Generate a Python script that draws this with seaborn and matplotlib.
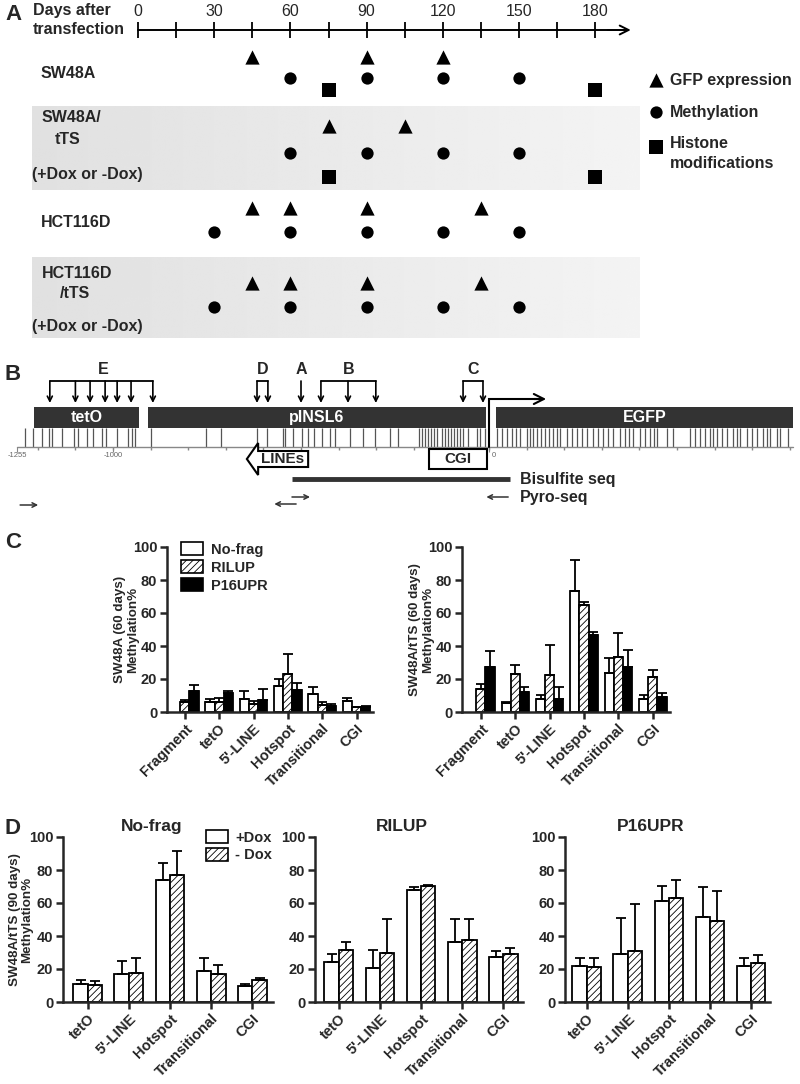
import numpy as np
import pandas as pd
import matplotlib
matplotlib.use("Agg")
import matplotlib.pyplot as plt
import seaborn as sns
from matplotlib.patches import Rectangle, Polygon, Patch

# ---------------- data ----------------
# Panel A : days after transfection
timeline_ticks = [0, 15, 30, 45, 60, 75, 90, 105, 120, 135, 150, 165, 180]
timeline_labels = [0, 30, 60, 90, 120, 150, 180]
sw48a_gfp = [45, 90, 120]
sw48a_meth = [60, 90, 120, 150]
sw48a_hist = [75, 180]
tts_gfp = [75, 105]
tts_meth = [60, 90, 120, 150]
tts_hist = [75, 180]
hct_gfp = [45, 60, 90, 135]
hct_meth = [30, 60, 90, 120, 150]
hcttts_gfp = [45, 60, 90, 135]
hcttts_meth = [30, 60, 90, 120, 150]

# Panel B : construct map (bp relative to TSS)
construct_names = ["tetO", "pINSL6", "EGFP"]
construct_start = [-1210, -907, 19]
construct_end = [-931, -8, 808]
cpg_sites = [-1234, -1213, -1189, -1170, -1162, -1136, -1104, -1093, -1069, -1053,
             -1029, -1019, -989, -960, -949, -941, -899, -753, -713, -617, -590,
             -548, -543, -521, -497, -481, -465, -444, -423, -410, -370, -335, -303,
             -263, -242, -186, -178, -170, -162, -154, -146, -138, -125, -117, -109,
             -101, -93, -85, -77, -69, -56, -32, -24, -11, 21, 35, 48, 61, 72, 82,
             101, 109, 117, 128, 138, 149, 160, 170, 181, 189, 207, 221, 234, 247,
             261, 277, 290, 303, 316, 330, 348, 362, 372, 383, 402, 415, 428, 439,
             447, 473, 489, 535, 548, 561, 574, 588, 596, 606, 620, 633, 649, 660,
             668, 686, 699, 713, 729, 739, 747, 766, 774, 795]
site_groups = ["E", "D", "A", "B", "C"]
site_E = [-1168, -1100, -1061, -1021, -989, -952, -894]
site_D = [-617, -588]
site_A = [-500]
site_B = [-447, -375, -301]
site_C = [-69, -16]
lines_start, lines_end = -644, -481
cgi_start, cgi_end = -160, -5
bisulfite_start, bisulfite_end = -524, 56
pyro_fwd = [-1247, -524]
pyro_rev = [51, -513]
axis_ticks_bp = [-1255, -1000, 0]

# Panel C : SW48A and SW48A/tTS, 60 days
c_regions = ["Fragment", "tetO", "5'-LINE", "Hotspot", "Transitional", "CGI"]
c_groups = ["No-frag", "RILUP", "P16UPR"]
c1_nofrag = [np.nan, 5.9, 8.1, 15.6, 11.0, 6.9]
c1_nofrag_err = [np.nan, 2.0, 4.5, 4.7, 4.0, 1.6]
c1_rilup = [6.1, 6.1, 5.1, 23.1, 4.5, 3.0]
c1_rilup_err = [1.0, 2.4, 1.8, 12.2, 1.6, 0.2]
c1_p16 = [12.6, 11.4, 7.3, 13.4, 3.9, 3.0]
c1_p16_err = [4.0, 1.2, 6.9, 4.2, 1.2, 0.6]
c2_nofrag = [np.nan, 5.3, 8.1, 73.5, 23.5, 7.7]
c2_nofrag_err = [np.nan, 1.0, 2.2, 18.5, 9.5, 2.6]
c2_rilup = [14.2, 22.9, 22.3, 65.0, 33.4, 21.5]
c2_rilup_err = [2.6, 5.6, 18.2, 1.4, 14.6, 3.8]
c2_p16 = [27.3, 12.3, 8.1, 46.6, 27.3, 9.3]
c2_p16_err = [9.7, 3.1, 7.1, 1.6, 10.1, 2.0]

# Panel D : SW48A/tTS, 90 days, +Dox / -Dox
d_regions = ["tetO", "5'-LINE", "Hotspot", "Transitional", "CGI"]
d_groups = ["+Dox", "- Dox"]
d_titles = ["No-frag", "RILUP", "P16UPR"]
nofrag_plus = [10.8, 17.2, 74.0, 18.9, 9.5]
nofrag_plus_err = [2.4, 7.5, 10.2, 7.5, 1.3]
nofrag_minus = [10.1, 17.8, 77.1, 17.2, 13.2]
nofrag_minus_err = [2.5, 8.6, 14.4, 5.1, 1.6]
rilup_plus = [24.3, 20.7, 68.0, 36.5, 27.0]
rilup_plus_err = [4.5, 10.7, 2.0, 13.8, 4.0]
rilup_minus = [31.4, 30.0, 70.6, 37.5, 28.8]
rilup_minus_err = [5.1, 20.3, 0.4, 12.8, 3.7]
p16_plus = [21.6, 28.8, 61.4, 51.6, 22.0]
p16_plus_err = [4.9, 22.4, 9.0, 18.4, 4.5]
p16_minus = [21.0, 31.2, 62.9, 49.2, 23.7]
p16_minus_err = [5.7, 28.2, 11.2, 18.1, 4.5]

# ---------------- style ----------------
sns.set_style("ticks")
plt.rcParams["font.family"] = ["Liberation Sans", "DejaVu Sans"]
plt.rcParams["hatch.linewidth"] = 0.6
plt.rcParams["hatch.color"] = "#222222"
NARROW = ["Liberation Sans Narrow", "Liberation Sans", "DejaVu Sans"]

W, H = 800, 1084
fig = plt.figure(figsize=(W / 100, H / 100), dpi=100)


def axes_px(x0, y0, x1, y1):
    return fig.add_axes([x0 / W, 1 - y1 / H, (x1 - x0) / W, (y1 - y0) / H])


def ftext(x, y, s, **kw):
    kw.setdefault("va", "center")
    fig.text(x / W, 1 - y / H, s, **kw)


# ---------------- Panel A ----------------
PX0, PXD = 138.0, 2.54          # day 0 position and px per day
axA = axes_px(0, 0, W, 345)
axA.axis("off")


def d(px):
    return (px - PX0) / PXD


grad = np.linspace(0.88, 0.955, 256)[None, :]
for (y0, y1) in [(107, 190), (258, 338)]:
    axA.imshow(grad, extent=(d(32), d(640), y1, y0), cmap="gray", vmin=0, vmax=1,
               aspect="auto", zorder=0, interpolation="bilinear")
axA.set_xlim((0 - PX0) / PXD, (W - PX0) / PXD)
axA.set_ylim(345, 0)

axA.plot([0, 192], [30, 30], color="black", lw=1.4, zorder=2)
axA.annotate("", xy=(194, 30), xytext=(185, 30),
             arrowprops=dict(arrowstyle="->", lw=1.4, color="black",
                             mutation_scale=16, shrinkA=0, shrinkB=0))
axA.vlines(timeline_ticks, 22, 38, color="black", lw=1.3)
for t in timeline_labels:
    axA.text(t, 11, str(t), ha="center", va="center", fontsize=11.5, family=NARROW)

S_TRI, S_CIR, S_SQ = 105, 78, 95
rows = [
    (sw48a_gfp, "^", 57, S_TRI), (sw48a_meth, "o", 78, S_CIR), (sw48a_hist, "s", 90, S_SQ),
    (tts_gfp, "^", 126, S_TRI), (tts_meth, "o", 153, S_CIR), (tts_hist, "s", 177, S_SQ),
    (hct_gfp, "^", 208, S_TRI), (hct_meth, "o", 232, S_CIR),
    (hcttts_gfp, "^", 283, S_TRI), (hcttts_meth, "o", 307, S_CIR),
]
for days, mk, y, s in rows:
    axA.scatter(days, [y] * len(days), marker=mk, s=s, color="black", linewidths=0, zorder=3)

# legend of panel A
axA.scatter([d(656)], [80], marker="^", s=S_TRI, color="black", linewidths=0)
axA.scatter([d(656)], [112], marker="o", s=S_CIR, color="black", linewidths=0)
axA.scatter([d(656)], [147], marker="s", s=S_SQ, color="black", linewidths=0)

bold_n = dict(fontsize=11.5, fontweight="bold", family=NARROW)
ftext(670, 80, "GFP expression", **bold_n)
ftext(670, 112, "Methylation", **bold_n)
ftext(670, 143, "Histone", **bold_n)
ftext(670, 164, "modifications", **bold_n)

ftext(33, 11, "Days after", **bold_n)
ftext(33, 30, "transfection", **bold_n)
ftext(41, 73, "SW48A", **bold_n)
ftext(42, 118, "SW48A/", **bold_n)
ftext(55, 140, "tTS", **bold_n)
ftext(32, 175, "(+Dox or -Dox)", **bold_n)
ftext(41, 223, "HCT116D", **bold_n)
ftext(42, 273, "HCT116D", **bold_n)
ftext(60, 293, "/tTS", **bold_n)
ftext(32, 327, "(+Dox or -Dox)", **bold_n)

ftext(5, 14, "A", fontsize=16, fontweight="bold", family=NARROW)
ftext(5, 375, "B", fontsize=16, fontweight="bold", family=NARROW)
ftext(5, 542, "C", fontsize=16, fontweight="bold", family=NARROW)
ftext(5, 828, "D", fontsize=16, fontweight="bold", family=NARROW)

# ---------------- Panel B ----------------
BP0, PXBP = 489.0, 0.376
axB = axes_px(0, 355, W, 525)
axB.set_xlim((0 - BP0) / PXBP, (W - BP0) / PXBP)
axB.set_ylim(525, 355)
axB.axis("off")

for name, s0, s1 in zip(construct_names, construct_start, construct_end):
    axB.add_patch(Rectangle((s0, 407), s1 - s0, 21, color="#333333", lw=0, zorder=2))
    axB.text((s0 + s1) / 2, 417.5, name, color="white", ha="center", va="center",
             fontsize=11.5, fontweight="bold", family=NARROW, zorder=3)

axB.vlines(cpg_sites, 428, 447, color="#555555", lw=0.9, zorder=1)
axB.plot([axis_ticks_bp[0], construct_end[-1]], [447, 447], color="#888888", lw=1.0, zorder=1)
axB.vlines(np.arange(-1200, 801, 100), 447, 449.5, color="#888888", lw=1.0)
axB.vlines(axis_ticks_bp, 447, 452, color="#888888", lw=0.8)
for t in axis_ticks_bp:
    axB.text(t + (8 if t == 0 else 0), 455, str(t), ha="left" if t == 0 else "center",
             va="center", fontsize=5.5, color="#666666")

for lab, sites in zip(site_groups, [site_E, site_D, site_A, site_B, site_C]):
    top = 381
    if len(sites) > 1:
        axB.plot([min(sites), max(sites)], [top, top], color="black", lw=1.3)
    for s in sites:
        axB.annotate("", xy=(s, 403), xytext=(s, top),
                     arrowprops=dict(arrowstyle="->", lw=1.2, color="black",
                                     mutation_scale=9, shrinkA=0, shrinkB=0))
    axB.text(np.mean(sites), 369, lab, ha="center", va="center", fontsize=11.5,
             fontweight="bold", family=NARROW)

# promoter arrow
axB.plot([0, 0, 135], [447, 399, 399], color="black", lw=1.5, zorder=4,
         solid_joinstyle="miter")
axB.annotate("", xy=(152, 399), xytext=(120, 399),
             arrowprops=dict(arrowstyle="->", lw=1.5, color="black",
                             mutation_scale=18, shrinkA=0, shrinkB=0), zorder=4)

# LINEs block arrow
hd = lines_start + 30
axB.add_patch(Polygon([(lines_start, 459), (hd, 443), (hd, 451), (lines_end, 451),
                       (lines_end, 467), (hd, 467), (hd, 475)], closed=True,
                      facecolor="white", edgecolor="black", lw=1.5, zorder=3))
axB.text((hd + lines_end) / 2 - 2, 459, "LINEs", ha="center", va="center", fontsize=11,
         fontweight="bold", family=NARROW, zorder=4)
# CGI box
axB.add_patch(Rectangle((cgi_start, 449), cgi_end - cgi_start, 20, facecolor="white",
                        edgecolor="black", lw=1.5, zorder=3))
axB.text((cgi_start + cgi_end) / 2, 459, "CGI", ha="center", va="center", fontsize=11,
         fontweight="bold", family=NARROW, zorder=4)
# bisulfite / pyro
axB.plot([bisulfite_start, bisulfite_end], [479, 479], color="#333333", lw=3.5,
         solid_capstyle="butt")
axB.text(82, 479, "Bisulfite seq", ha="left", va="center", **bold_n)
for s, y in zip(pyro_fwd, [505, 497]):
    axB.annotate("", xy=(s + 48, y), xytext=(s, y),
                 arrowprops=dict(arrowstyle="->", lw=1.1, color="#333333",
                                 mutation_scale=8, shrinkA=0, shrinkB=0))
for s, y in zip(pyro_rev, [497, 504]):
    axB.annotate("", xy=(s - 58, y), xytext=(s, y),
                 arrowprops=dict(arrowstyle="->", lw=1.1, color="#333333",
                                 mutation_scale=8, shrinkA=0, shrinkB=0))
axB.text(82, 497, "Pyro-seq", ha="left", va="center", **bold_n)

# ---------------- Panels C and D (seaborn bars) ----------------
STYLE = {
    "No-frag": dict(fc="white", hatch=""),
    "RILUP": dict(fc="white", hatch="/////"),
    "P16UPR": dict(fc="black", hatch=""),
    "+Dox": dict(fc="white", hatch=""),
    "- Dox": dict(fc="white", hatch="/////"),
}
TICK_FS = 10.5


def bar_panel(ax, cats, groups, means, errs, width, xlim, ylabel=None, ylab_x=-0.13):
    recs = []
    for g, m in zip(groups, means):
        for c, v in zip(cats, m):
            recs.append({"region": c, "group": g, "meth": v})
    df = pd.DataFrame(recs)
    sns.barplot(data=df, x="region", y="meth", hue="group", order=cats, hue_order=groups,
                palette={g: STYLE[g]["fc"] for g in groups}, saturation=1,
                errorbar=None, width=width, edgecolor="black", linewidth=1.3,
                legend=False, ax=ax)
    conts = list(ax.containers)
    for cont, g, e in zip(conts, groups, errs):
        for bar in cont:
            bar.set_facecolor(STYLE[g]["fc"])
            bar.set_edgecolor("black")
            bar.set_hatch(STYLE[g]["hatch"])
            h = bar.get_height()
            xc = bar.get_x() + bar.get_width() / 2
            k = int(round(xc))
            if np.isnan(h) or k < 0 or k >= len(e) or np.isnan(e[k]):
                continue
            ax.errorbar([xc], [h], yerr=[[0], [e[k]]], fmt="none", ecolor="black",
                        elinewidth=1.3, capsize=3.5, capthick=1.3, zorder=3)
    ax.set_xlim(*xlim)
    ax.set_ylim(0, 100)
    ax.set_yticks([0, 20, 40, 60, 80, 100])
    ax.set_xticks(range(len(cats)))
    ax.set_xticklabels(cats, rotation=45, ha="right", rotation_mode="anchor",
                       fontsize=TICK_FS, fontweight="bold")
    for lbl in ax.get_yticklabels():
        lbl.set_fontweight("bold")
        lbl.set_fontsize(TICK_FS)
    ax.set_xlabel("")
    ax.set_ylabel(ylabel if ylabel else "", fontsize=9.6, fontweight="bold",
                  linespacing=1.1)
    if ylabel:
        ax.yaxis.set_label_coords(ylab_x, 0.5)
    sns.despine(ax=ax)
    for sp in ["left", "bottom"]:
        ax.spines[sp].set_linewidth(1.8)
    ax.tick_params(axis="both", width=1.8, length=5, pad=2)


axC1 = axes_px(167, 547, 373, 712)
bar_panel(axC1, c_regions, c_groups, [c1_nofrag, c1_rilup, c1_p16],
          [c1_nofrag_err, c1_rilup_err, c1_p16_err], 0.8, (-0.52, 5.48),
          "SW48A (60 days)\nMethylation%", -0.135)
axC2 = axes_px(462, 547, 670, 712)
bar_panel(axC2, c_regions, c_groups, [c2_nofrag, c2_rilup, c2_p16],
          [c2_nofrag_err, c2_rilup_err, c2_p16_err], 0.8, (-0.55, 5.5),
          "SW48A/tTS (60 days)\nMethylation%", -0.135)
hC = [Patch(facecolor=STYLE[g]["fc"], edgecolor="black", hatch=STYLE[g]["hatch"], lw=1.2)
      for g in c_groups]
axC1.legend(hC, c_groups, loc="upper left", bbox_to_anchor=(0.07, 1.03), frameon=False,
            prop=dict(weight="bold", size=10.5), handlelength=1.5, handleheight=1.0,
            labelspacing=0.25, handletextpad=0.5, borderaxespad=0, borderpad=0)

d_sets = [
    ([nofrag_plus, nofrag_minus], [nofrag_plus_err, nofrag_minus_err]),
    ([rilup_plus, rilup_minus], [rilup_plus_err, rilup_minus_err]),
    ([p16_plus, p16_minus], [p16_plus_err, p16_minus_err]),
]
d_boxes = [(63, 273), (315, 523), (565, 770)]
d_xlims = [(-0.6, 4.5), (-0.58, 4.48), (-0.53, 4.46)]
axD = []
for i, ((means, errs), (x0, x1), title, xl) in enumerate(zip(d_sets, d_boxes, d_titles, d_xlims)):
    ax = axes_px(x0, 837, x1, 1002)
    bar_panel(ax, d_regions, d_groups, means, errs, 0.7, xl,
              "SW48A/tTS (90 days)\nMethylation%" if i == 0 else None, -0.14)
    ax.text(0.42, 1.065, title, transform=ax.transAxes, ha="center", va="center",
            fontsize=12.5, fontweight="bold")
    axD.append(ax)
hD = [Patch(facecolor="white", edgecolor="black", hatch=STYLE[g]["hatch"], lw=1.2)
      for g in d_groups]
axD[0].legend(hD, d_groups, loc="upper left", bbox_to_anchor=(0.68, 1.04), frameon=False,
              prop=dict(weight="bold", size=10.5), handlelength=1.5, handleheight=1.0,
              labelspacing=0.2, handletextpad=0.5, borderaxespad=0, borderpad=0)

fig.savefig("out.png", dpi=100)
